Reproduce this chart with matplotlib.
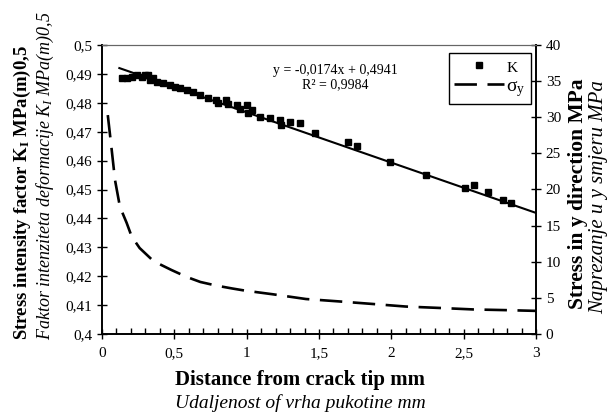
"""Stress intensity factor K_I and stress sigma_y versus distance from crack tip."""

import matplotlib

matplotlib.use("Agg")
import matplotlib.pyplot as plt
from matplotlib.ticker import FuncFormatter, MultipleLocator

# K_I measurements (distance mm, MPa m^0.5)
k_x = [0.136, 0.17, 0.205, 0.24, 0.274, 0.297, 0.32, 0.33, 0.35, 0.378, 0.424,
       0.47, 0.505, 0.54, 0.585, 0.63, 0.68, 0.735, 0.79, 0.80, 0.86, 0.87,
       0.93, 0.955, 1.0, 1.01, 1.035, 1.09, 1.16, 1.23, 1.24, 1.30, 1.37,
       1.47, 1.70, 1.76, 1.99, 2.24, 2.51, 2.57, 2.67, 2.77, 2.83]
k_y = [0.4885, 0.4885, 0.489, 0.4896, 0.489, 0.4896, 0.4896, 0.4879, 0.4885,
       0.4873, 0.4867, 0.4862, 0.4856, 0.485, 0.4844, 0.4838, 0.4827, 0.4816,
       0.481, 0.4798, 0.481, 0.4796, 0.4792, 0.478, 0.4792, 0.4764, 0.4775,
       0.4752, 0.4746, 0.474, 0.4723, 0.4735, 0.4729, 0.4694, 0.4665, 0.4650,
       0.4596, 0.455, 0.4504, 0.4515, 0.4492, 0.4464, 0.4454]

# linear trend reported on the chart
fit_slope = -0.0174
fit_intercept = 0.4941
fit_x = [0.12, 3.0]

# sigma_y (MPa)
s_x = [0.04, 0.067, 0.09, 0.124, 0.17, 0.205, 0.26, 0.35, 0.41, 0.48, 0.585,
       0.68, 0.79, 0.9, 0.99, 1.18, 1.41, 1.645, 1.875, 2.1, 2.34, 2.565, 2.8, 3.0]
s_y = [30.3, 25.5, 21.3, 17.6, 15.4, 13.5, 11.9, 10.2, 9.55, 8.86, 7.9, 7.2,
       6.7, 6.3, 6.0, 5.5, 4.84, 4.5, 4.15, 3.8, 3.6, 3.4, 3.3, 3.2]

plt.rcParams["font.family"] = ["Liberation Serif", "DejaVu Serif"]
plt.rcParams["mathtext.fontset"] = "custom"
plt.rcParams["mathtext.rm"] = "Liberation Serif"
plt.rcParams["mathtext.it"] = "Liberation Serif:italic"
plt.rcParams["mathtext.bf"] = "Liberation Serif:bold"

comma = FuncFormatter(lambda v, p: f"{v:g}".replace(".", ","))

fig = plt.figure(figsize=(6.12, 4.13), dpi=100)
ax = fig.add_axes([102 / 612, 79 / 413, 434 / 612, 289 / 413])
ax2 = ax.twinx()

ax.plot(k_x, k_y, "s", color="black", markersize=5, linestyle="none", label="K")
ax.plot(fit_x, [fit_slope * x + fit_intercept for x in fit_x], color="black", linewidth=1.5)
ln, = ax2.plot(s_x, s_y, color="black", linewidth=1.9, dashes=(8.5, 4), label=r"σ$_\mathrm{y}$")

ax.set_xlim(0, 3)
ax.set_ylim(0.4, 0.5)
ax2.set_ylim(0, 40)
ax.xaxis.set_major_locator(MultipleLocator(0.5))
ax.xaxis.set_minor_locator(MultipleLocator(0.1))
ax.yaxis.set_major_locator(MultipleLocator(0.01))
ax2.yaxis.set_major_locator(MultipleLocator(5))
ax.xaxis.set_major_formatter(comma)
ax.yaxis.set_major_formatter(comma)

ax.tick_params(axis="x", which="major", direction="inout", length=7, width=1, labelsize=11, pad=6)
ax.tick_params(axis="x", which="minor", direction="in", length=4, width=1)
ax.tick_params(axis="y", direction="inout", length=7, width=1, labelsize=11)
ax2.tick_params(axis="y", direction="inout", length=7, width=1, labelsize=11)
for a in (ax, ax2):
    for side in ("left", "right", "bottom"):
        a.spines[side].set_linewidth(1.2)
    a.spines["top"].set_color("#666")

ax.text(1.61, 0.4888, "y = -0,0174x + 0,4941\nR² = 0,9984", ha="center", va="center",
        fontsize=10, linespacing=1.15, multialignment="center")

h1, l1 = ax.get_legend_handles_labels()
leg = ax.legend(h1 + [ln], l1 + [ln.get_label()], loc="upper right",
                bbox_to_anchor=(0.9965, 0.985), fontsize=14, handlelength=2.6,
                fancybox=False, edgecolor="black", framealpha=1,
                borderpad=0.25, labelspacing=0.15, handletextpad=0.1,
                borderaxespad=0.2)
leg.get_frame().set_linewidth(1.0)
leg.get_texts()[0].set_fontsize(11)

fig.text(22 / 612, 1 - 193 / 413, r"Stress intensity factor K$_{\mathbf{I}}$ MPa(m)0,5",
         rotation=90, ha="center", va="center", fontsize=13.5, fontweight="bold")
fig.text(45 / 612, 1 - 176 / 413, r"Faktor intenziteta deformacije K$_{\mathit{I}}$ MPa(m)0,5",
         rotation=90, ha="center", va="center", fontsize=13, style="italic")
fig.text(300 / 612, 1 - 380 / 413, "Distance from crack tip mm",
         ha="center", va="center", fontsize=15, fontweight="bold")
fig.text(300 / 612, 1 - 403 / 413, "Udaljenost of vrha pukotine mm",
         ha="center", va="center", fontsize=14, style="italic")
fig.text(578 / 612, 1 - 194 / 413, "Stress in y direction MPa",
         rotation=90, ha="center", va="center", fontsize=15.5, fontweight="bold")
fig.text(599 / 612, 1 - 197 / 413, "Naprezanje u y smjeru MPa",
         rotation=90, ha="center", va="center", fontsize=15, style="italic")

fig.savefig("out.png", dpi=100)
